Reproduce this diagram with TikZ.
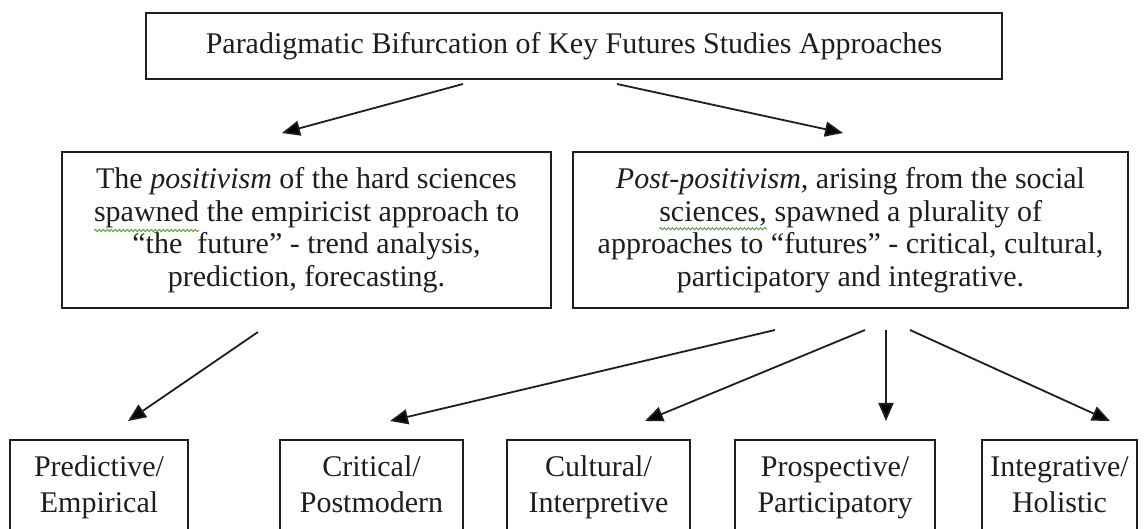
\documentclass[tikz,border=0pt]{standalone}
\usepackage{fontspec}
\setmainfont{Liberation Serif}
\usetikzlibrary{arrows.meta,decorations.pathmorphing}
\definecolor{ink}{HTML}{1E1E1E}
\definecolor{squigc}{HTML}{5A9A3A}
\newcommand{\squig}[1]{\tikz[baseline=(w.base)]{\node[draw=none,minimum width=0pt,minimum height=0pt,inner sep=0pt,outer sep=0pt,align=left](w){#1};\draw[squigc,line width=0.9pt,decorate,decoration={snake,amplitude=1.1pt,segment length=4pt}] ([yshift=-3pt]w.south west) -- ([yshift=-3pt]w.south east);}}
\begin{document}
\begin{tikzpicture}[x=1pt,y=-1pt,
  box/.style={draw=ink,line width=1.8pt,inner sep=0pt,align=center,text=ink},
  bigtxt/.style={font=\fontsize{30}{32.5}\selectfont},
  smalltxt/.style={font=\fontsize{30}{36}\selectfont},
  arr/.style={draw=ink,line width=1.8pt,-{Triangle[length=18pt,width=15pt]}}]
\useasboundingbox (0,0) rectangle (1144,529);
\clip (0,0) rectangle (1144,529);
\fill[white] (0,0) rectangle (1144,529);
% top
\node[box,bigtxt,minimum width=856pt,minimum height=66pt] (top) at (574,46) {Paradigmatic Bifurcation of Key Futures Studies Approaches};
% middle
\node[box,bigtxt,minimum width=489pt,minimum height=156pt] (pos) at (306.5,230) {The \textit{positivism} of the hard sciences\\ \squig{spawned} the empiricist approach to\\ ``the\ \ future'' - trend analysis,\\ prediction, forecasting.};
\node[box,bigtxt,minimum width=555pt,minimum height=156pt] (post) at (850.5,230) {\textit{Post-positivism,} arising from the social\\ \squig{sciences,} spawned a plurality of\\ approaches to ``futures'' - critical, cultural,\\ participatory and integrative.};
% bottom
\node[box,smalltxt,minimum width=178pt,minimum height=94pt] (b1) at (99,487) {Predictive/\strut\\Empirical\strut};
\node[box,smalltxt,minimum width=183pt,minimum height=94pt] (b2) at (371.5,487) {Critical/\strut\\Postmodern\strut};
\node[box,smalltxt,minimum width=183pt,minimum height=94pt] (b3) at (598.5,487) {Cultural/\strut\\Interpretive\strut};
\node[box,smalltxt,minimum width=200pt,minimum height=94pt] (b4) at (835,487) {Prospective/\strut\\Participatory\strut};
\node[box,smalltxt,minimum width=155pt,minimum height=94pt] (b5) at (1059.5,487) {Integrative/\strut\\Holistic\strut};
% connector ends
\coordinate (t1) at (463,84);
\coordinate (t2) at (617,84);
\coordinate (m1) at (282,133);
\coordinate (m2) at (843,133);
\coordinate (p0) at (258,332);
\coordinate (q1) at (775,330);
\coordinate (q2) at (865,330);
\coordinate (q3) at (886,330);
\coordinate (q4) at (910,330);
\coordinate (e1) at (128,421);
\coordinate (e2) at (390,421);
\coordinate (e3) at (645,421);
\coordinate (e4) at (886,421);
\coordinate (e5) at (1110,421);
\draw[arr] (t1) -- (m1);
\draw[arr] (t2) -- (m2);
\draw[arr] (p0) -- (e1);
\draw[arr] (q1) -- (e2);
\draw[arr] (q2) -- (e3);
\draw[arr] (q3) -- (e4);
\draw[arr] (q4) -- (e5);
\end{tikzpicture}
\end{document}
